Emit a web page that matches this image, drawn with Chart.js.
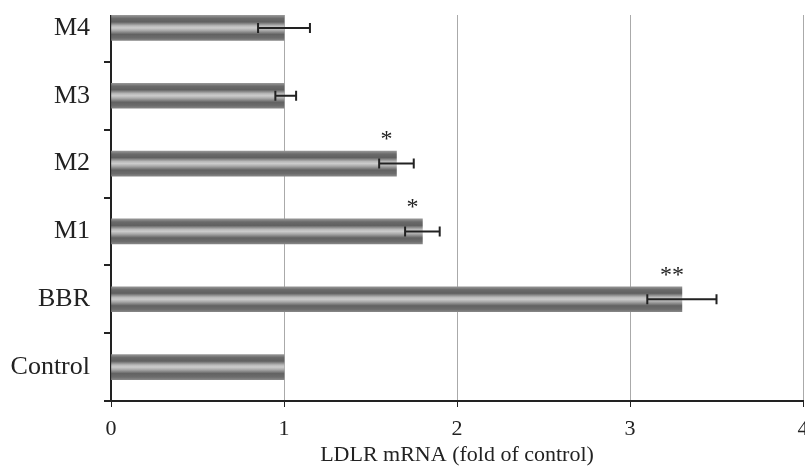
<!DOCTYPE html>
<html>
<head>
<meta charset="utf-8">
<script src="https://cdn.jsdelivr.net/npm/chart.js@4"></script>
<style>
  html, body { margin: 0; padding: 0; background: #fff; overflow: hidden; }
  #wrap { position: absolute; left: 0; top: -21px; }
</style>
</head>
<body>
<div id="wrap"><canvas id="myChart" width="805" height="491"></canvas></div>
<script>
// data
var groups = ["M4", "M3", "M2", "M1", "BBR", "Control"];
var fold = [1.0, 1.0, 1.65, 1.8, 3.3, 1.0];
var errLow = [0.85, 0.95, 1.55, 1.70, 3.10, null];
var errHigh = [1.15, 1.07, 1.75, 1.90, 3.50, null];
var stars = ["", "", "*", "*", "**", ""];
var xTicks = [0, 1, 2, 3, 4];

var serif = "'Liberation Serif', 'DejaVu Serif', serif";

// striped grey fill, one gradient per bar
function stripes(c) {
  var ch = c.chart;
  if (!ch.chartArea) return '#888';
  var yc = ch.scales.y.getPixelForValue(c.dataIndex);
  var h = 25;
  var g = ch.ctx.createLinearGradient(0, yc - h / 2, 0, yc + h / 2);
  g.addColorStop(0, '#969696');
  g.addColorStop(0.12, '#6a6a6a');
  g.addColorStop(0.26, '#606060');
  g.addColorStop(0.42, '#bababa');
  g.addColorStop(0.5, '#cccccc');
  g.addColorStop(0.6, '#aaaaaa');
  g.addColorStop(0.76, '#626262');
  g.addColorStop(0.9, '#6c6c6c');
  g.addColorStop(1, '#868686');
  return g;
}

// the plot frame in the figure starts a little below the top band
var topCut = {
  id: 'topcut',
  beforeDatasetsDraw: function (chart) {
    var ctx = chart.ctx;
    ctx.save();
    ctx.fillStyle = '#fff';
    ctx.fillRect(100, 0, chart.width - 100, 36);
    ctx.restore();
  }
};

// error bars + significance marks
var errPlugin = {
  id: 'errbars',
  afterDatasetsDraw: function (chart) {
    var ctx = chart.ctx;
    var xs = chart.scales.x, ys = chart.scales.y;
    ctx.save();
    ctx.strokeStyle = '#222';
    ctx.lineWidth = 2;
    for (var i = 0; i < groups.length; i++) {
      var yc = ys.getPixelForValue(i);
      if (errLow[i] != null) {
        var x1 = xs.getPixelForValue(errLow[i]);
        var x2 = xs.getPixelForValue(errHigh[i]);
        ctx.beginPath();
        ctx.moveTo(x1, yc); ctx.lineTo(x2, yc);
        ctx.moveTo(x1, yc - 5); ctx.lineTo(x1, yc + 5);
        ctx.moveTo(x2, yc - 5); ctx.lineTo(x2, yc + 5);
        ctx.stroke();
      }
      if (stars[i]) {
        ctx.fillStyle = '#222';
        ctx.font = '24px ' + serif;
        ctx.textAlign = 'center';
        ctx.textBaseline = 'alphabetic';
        ctx.fillText(stars[i], xs.getPixelForValue(fold[i]) - 10, yc - 12.5 - 5);
      }
    }
    ctx.restore();
  }
};

var ctx = document.getElementById('myChart');

var chart = new Chart(ctx, {
  type: 'bar',
  data: {
    labels: groups,
    datasets: [
      {
        data: fold,
        backgroundColor: stripes,
        borderWidth: 0,
        barThickness: 25
      }
    ]
  },
  options: {
    indexAxis: 'y',
    responsive: false,
    animation: false,
    devicePixelRatio: 1,
    layout: { padding: { top: 15, right: 2, bottom: 0, left: 0 } },
    plugins: { legend: { display: false }, tooltip: { enabled: false } },
    scales: {
      x: {
        min: 0,
        max: 4,
        afterBuildTicks: function (s) { s.ticks = xTicks.map(function (v) { return { value: v }; }); },
        afterFit: function (s) { s.height = 69; s.paddingLeft = 0; s.paddingRight = 0; },
        grid: { color: '#aaaaaa', lineWidth: 1, tickColor: '#222', tickLength: 6 },
        border: { color: '#222', width: 2 },
        ticks: { color: '#222', padding: 9, font: { family: serif, size: 22 }, maxRotation: 0 },
        title: {
          display: true,
          text: 'LDLR mRNA (fold of control)',
          color: '#222',
          font: { family: serif, size: 22 },
          padding: { top: 0, bottom: 2 }
        }
      },
      y: {
        afterFit: function (s) { s.width = 111; s.paddingTop = 0; s.paddingBottom = 0; },
        grid: { drawOnChartArea: false, tickColor: '#222', tickLength: 7, lineWidth: 2 },
        border: { color: '#222', width: 2 },
        ticks: { color: '#222', padding: 14, font: { family: serif, size: 26 } }
      }
    }
  },
  plugins: [topCut, errPlugin]
});
</script>
</body>
</html>
